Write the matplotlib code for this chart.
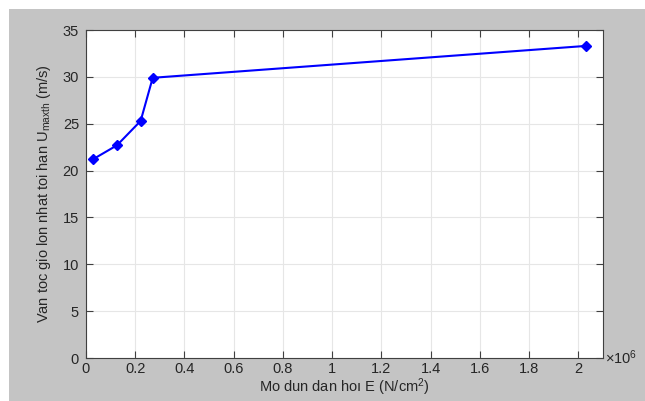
import matplotlib.pyplot as plt
from matplotlib.patches import Rectangle
from matplotlib.ticker import FuncFormatter, MultipleLocator

# Mo dun dan hoi E (N/cm^2) vs van toc gio toi han (m/s)
modulus = [0.028e6, 0.126e6, 0.222e6, 0.271e6, 2.03e6]
wind_speed = [21.2, 22.7, 25.3, 29.9, 33.3]

plt.rcParams["font.family"] = ["Liberation Sans", "DejaVu Sans"]
plt.rcParams["font.size"] = 10.5
plt.rcParams["mathtext.fontset"] = "custom"
plt.rcParams["mathtext.rm"] = "Liberation Sans"
plt.rcParams["mathtext.it"] = "Liberation Sans"

text_color = "#262626"

fig = plt.figure(figsize=(6.45, 4.01), dpi=100, facecolor="white")
# gray figure panel behind the axes
fig.add_artist(Rectangle((9 / 645, 0), 1, 1 - 9 / 401, transform=fig.transFigure,
                         facecolor="#c4c4c4", edgecolor="none", zorder=-10))

ax = fig.add_axes([86 / 645, 43 / 401, 517 / 645, 328 / 401])
ax.set_facecolor("white")

ax.plot(modulus, wind_speed, color="#0000ff", lw=1.5, marker="D", ms=5.5,
        mfc="#0000ff", mec="#0000ff", zorder=3)

ax.set_xlim(0, 2.1e6)
ax.set_ylim(0, 35)
ax.xaxis.set_major_locator(MultipleLocator(0.2e6))
ax.yaxis.set_major_locator(MultipleLocator(5))
ax.xaxis.set_major_formatter(FuncFormatter(lambda v, p: f"{v / 1e6:g}"))

ax.grid(True, color="#e6e6e6", lw=0.8)
ax.set_axisbelow(True)
ax.tick_params(direction="in", length=5, width=0.8, top=True, right=True,
               colors="#404040", labelcolor=text_color)
ax.tick_params(axis="x", pad=3)
ax.tick_params(axis="y", pad=5)
for s in ax.spines.values():
    s.set_color("#404040")
    s.set_linewidth(0.8)

ax.text(1.004, 0.0, r"$\times$10$^{6}$", transform=ax.transAxes, ha="left",
        va="center", color=text_color, fontsize=10.5)

ax.set_xlabel("Mo dun dan hoı E (N/cm$^{2}$)", color=text_color, labelpad=0)
ax.set_ylabel("Van toc gio lon nhat toi han U$_{maxth}$ (m/s)", color=text_color,
              labelpad=7)

fig.savefig("out.png", dpi=100, facecolor=fig.get_facecolor())
